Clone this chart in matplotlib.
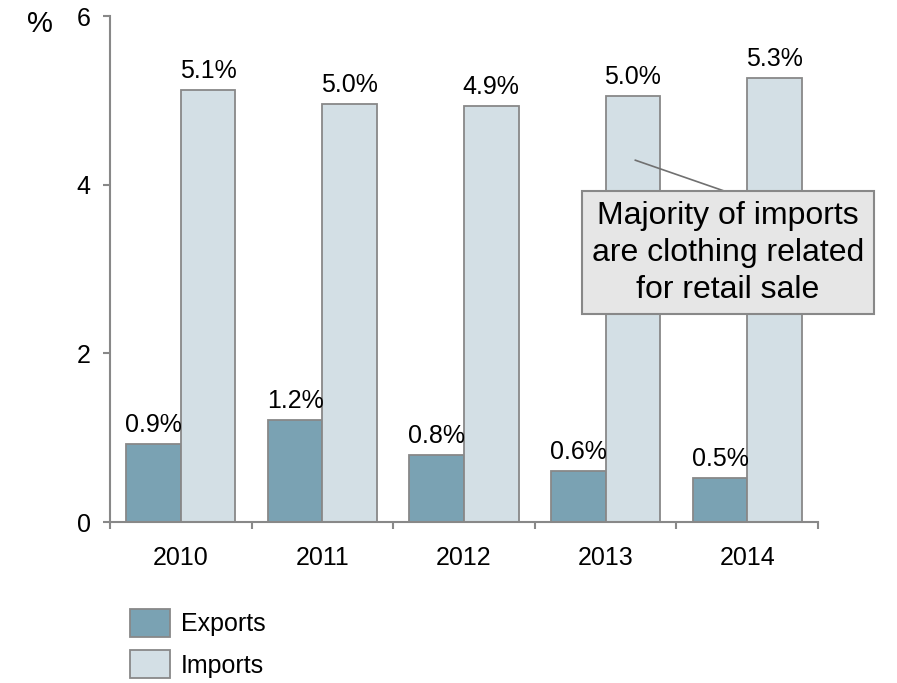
import matplotlib.pyplot as plt
import numpy as np

plt.rcParams['font.family'] = ['Liberation Sans', 'DejaVu Sans']

years = ['2010', '2011', '2012', '2013', '2014']
exports = [0.93, 1.21, 0.79, 0.61, 0.52]
imports = [5.12, 4.96, 4.93, 5.05, 5.26]

export_color = '#7aa2b3'
import_color = '#d3dfe5'
edge_color = '#888888'

fig = plt.figure(figsize=(8.97, 6.83), dpi=100)
ax = fig.add_axes([110 / 897, 1 - 522 / 683, 708 / 897, 506 / 683])

x = np.arange(len(years))
w = 0.385
b1 = ax.bar(x - w / 2, exports, w, color=export_color, edgecolor=edge_color,
            linewidth=1.3, label='Exports')
b2 = ax.bar(x + w / 2, imports, w, color=import_color, edgecolor=edge_color,
            linewidth=1.3, label='Imports')

# value labels above each bar
for bars, vals in ((b1, exports), (b2, imports)):
    for rect, v in zip(bars, vals):
        ax.annotate(f'{v:.1f}%', (rect.get_x() + rect.get_width() / 2, v),
                    xytext=(0, 5), textcoords='offset points',
                    ha='center', va='bottom', fontsize=18)

ax.set_xlim(-0.5, len(years) - 0.5)
ax.set_ylim(0, 6)
ax.set_yticks([0, 2, 4, 6])
ax.tick_params(axis='y', labelsize=18, length=5, width=1.5, color=edge_color, pad=9)

# ticks between categories, labels centred under each pair
ax.set_xticks(np.arange(len(years) + 1) - 0.5)
ax.set_xticklabels([])
ax.set_xticks(x, minor=True)
ax.set_xticklabels(years, minor=True)
ax.tick_params(axis='x', which='major', length=5, width=1.5, color=edge_color)
ax.tick_params(axis='x', which='minor', length=0, labelsize=18, pad=17)

for s in ('top', 'right'):
    ax.spines[s].set_visible(False)
for s in ('left', 'bottom'):
    ax.spines[s].set_color(edge_color)
    ax.spines[s].set_linewidth(1.5)

fig.text(40 / 897, 1 - 24 / 683, '%', fontsize=21, ha='center', va='center')

# callout: leader line from the 2013 imports bar to the note box
ax.plot([3.21, 3.915], [4.29, 3.88], color='#707070', lw=1.2, zorder=4)
ax.text(3.864, 3.19, 'Majority of imports\nare clothing related\nfor retail sale',
        ha='center', va='center', fontsize=23, linespacing=1.3, zorder=5,
        bbox=dict(boxstyle='square,pad=0.3', fc='#e6e6e6', ec=edge_color, lw=1.5))

fig.legend(handles=[b1, b2], loc='upper left',
           bbox_to_anchor=(112 / 897, 1 - 591 / 683), frameon=False,
           fontsize=18, handlelength=1.6, handleheight=1.35,
           labelspacing=0.55, handletextpad=0.45, borderpad=0.2)

fig.savefig('out.png', dpi=100)
